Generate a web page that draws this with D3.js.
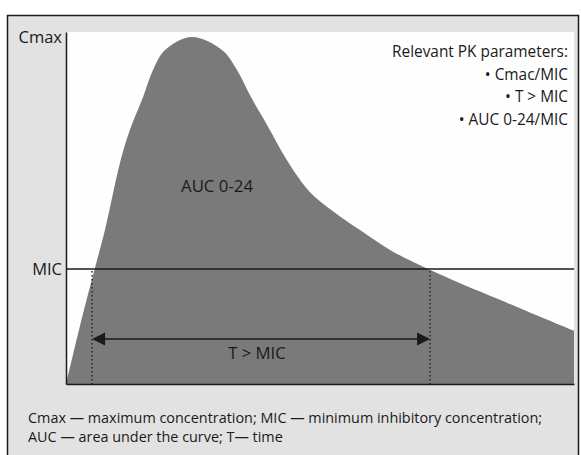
<!DOCTYPE html>
<html>
<head>
<meta charset="utf-8">
<script src="https://cdn.jsdelivr.net/npm/d3@7"></script>
<style>
  html, body { margin: 0; padding: 0; background: #fff; }
  svg { display: block; }
  text { font-family: "Open Sans", "Noto Sans", sans-serif; fill: #1a1a1a; }
</style>
</head>
<body>
<svg id="chart" width="581" height="455"></svg>
<script>
// ---- data (time in hours, concentration in arbitrary % of plot height) ----
const times = [0, 0.66, 1.37, 1.84, 2.55, 3.02, 3.64, 4.11, 4.68, 5.95, 7.37, 8.08, 8.74, 9.5, 10.44, 11.53, 12.61, 13.89, 15.31, 17.1, 20.5, 24];
const concentrations = [0, 16.5, 33.0, 43.75, 62.8, 72.2, 81.5, 89.2, 94.9, 98.6, 94.9, 89.2, 81.5, 73.6, 63.6, 54.5, 49.1, 43.75, 38.1, 32.7, 23.9, 15.1];
const micValue = 32.7;
const cmaxValue = 98.6;
const tAboveMic = [1.23, 17.2];   // times where curve crosses MIC
const arrowLevel = 12.8;
const yTickLabels = ["Cmax", "MIC"];
const paramsTitle = "Relevant PK parameters:";
const paramsList = ["• Cmac/MIC", "• T > MIC", "• AUC 0-24/MIC"];
const footnotes = ["Cmax — maximum concentration; MIC — minimum inhibitory concentration;",
                   "AUC — area under the curve; T— time"];

const svg = d3.select("#chart");
const plot = {left: 66, right: 574, top: 32, bottom: 384};

// outer panel
svg.append("rect").attr("x", 7.5).attr("y", 15.5).attr("width", 571).attr("height", 460)
  .attr("fill", "#e2e2e2").attr("stroke", "#1a1a1a").attr("stroke-width", 1.5);
// plot white area
svg.append("rect").attr("x", plot.left).attr("y", plot.top)
  .attr("width", plot.right - plot.left).attr("height", plot.bottom - plot.top).attr("fill", "#fefefe");

const x = d3.scaleLinear().domain([0, 24]).range([plot.left, plot.right]);
const y = d3.scaleLinear().domain([0, 100]).range([plot.bottom, plot.top]);

const data = times.map((t, i) => ({t, c: concentrations[i]}));

const area = d3.area().x(d => x(d.t)).y0(y(0)).y1(d => y(d.c)).curve(d3.curveCatmullRom.alpha(0.5));
svg.append("path").datum(data).attr("d", area).attr("fill", "#7a7a7a");

// MIC line
svg.append("line").attr("x1", x(0)).attr("x2", x(24)).attr("y1", y(micValue)).attr("y2", y(micValue))
  .attr("stroke", "#1a1a1a").attr("stroke-width", 1.5);

// dotted verticals
tAboveMic.forEach(t => {
  svg.append("line").attr("x1", x(t)).attr("x2", x(t)).attr("y1", y(micValue) + 2).attr("y2", y(0))
    .attr("stroke", "#2a2a2a").attr("stroke-width", 1.5).attr("stroke-dasharray", "1.5,2.5");
});

// double arrow
const ay = y(arrowLevel);
const xa = x(tAboveMic[0]), xb = x(tAboveMic[1]);
svg.append("line").attr("x1", xa + 10).attr("x2", xb - 10).attr("y1", ay).attr("y2", ay)
  .attr("stroke", "#1a1a1a").attr("stroke-width", 1.5);
svg.append("path").attr("d", `M${xa},${ay} L${xa + 13},${ay - 6.5} L${xa + 13},${ay + 6.5} Z`).attr("fill", "#1a1a1a");
svg.append("path").attr("d", `M${xb},${ay} L${xb - 13},${ay - 6.5} L${xb - 13},${ay + 6.5} Z`).attr("fill", "#1a1a1a");

// axes
const yAxis = d3.axisLeft(y).tickValues([cmaxValue, micValue])
  .tickFormat((d, i) => yTickLabels[i]).tickSize(0).tickSizeOuter(0).tickPadding(4);
const gy = svg.append("g").attr("transform", `translate(${plot.left},0)`).call(yAxis);
gy.select(".domain").attr("stroke", "#1a1a1a").attr("stroke-width", 1.5);
gy.selectAll("text").style("font-size", "16.5px").attr("fill", "#1a1a1a")
  .style("font-family", '"Open Sans", sans-serif');

const xAxis = d3.axisBottom(x).tickValues([]).tickSizeOuter(0);
const gx = svg.append("g").attr("transform", `translate(0,${plot.bottom})`).call(xAxis);
gx.select(".domain").attr("stroke", "#1a1a1a").attr("stroke-width", 1.5);

// labels inside
svg.append("text").attr("x", 217).attr("y", 192).attr("text-anchor", "middle")
  .style("font-size", "16.8px").text("AUC 0-24");
svg.append("text").attr("x", 257).attr("y", 359).attr("text-anchor", "middle")
  .style("font-size", "16.7px").text("T > MIC");

// parameters block
const pb = svg.append("text").attr("text-anchor", "end").style("font-size", "15.4px");
[paramsTitle].concat(paramsList).forEach((s, i) => {
  pb.append("tspan").attr("x", 568).attr("y", 57 + i * 22.7).text(s);
});

// footnotes
footnotes.forEach((s, i) => {
  svg.append("text").attr("x", 28).attr("y", 423 + i * 19).style("font-size", "14.4px").text(s);
});
</script>
</body>
</html>
